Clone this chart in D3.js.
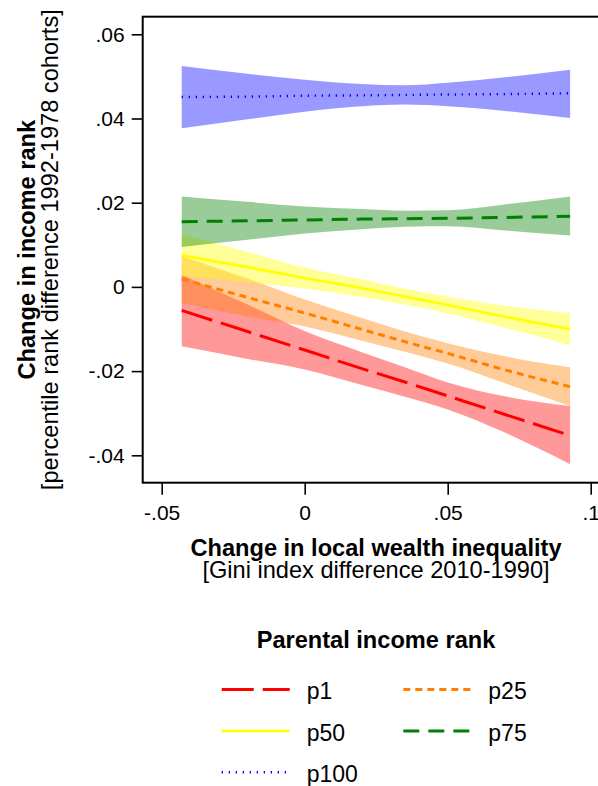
<!DOCTYPE html>
<html>
<head>
<meta charset="utf-8">
<script src="https://cdn.jsdelivr.net/npm/d3@7/dist/d3.min.js"></script>
<style>
  html, body { margin: 0; padding: 0; background: #fff; }
  svg { display: block; font-family: "Liberation Sans", Arial, Helvetica, sans-serif; }
</style>
</head>
<body>
<svg id="chart" width="598" height="786"></svg>
<script>
// Evaluation points on the x axis (change in local Gini index)
const gini = [-0.043, -0.02, 0, 0.02, 0.035, 0.05, 0.07, 0.0928];

// Predicted change in income rank with 95% CI, by parental income rank
const p1Fit  = [-0.0056, -0.0106, -0.0150, -0.0194, -0.0226, -0.0259, -0.0303, -0.0353];
const p1Lo   = [-0.0141, -0.0171, -0.0196, -0.0233, -0.0261, -0.0291, -0.0346, -0.0421];
const p1Hi   = [ 0.0029, -0.0042, -0.0105, -0.0155, -0.0191, -0.0227, -0.0260, -0.0283];

const p25Fit = [ 0.0019, -0.0025, -0.0062, -0.0101, -0.0130, -0.0158, -0.0197, -0.0237];
const p25Lo  = [-0.0038, -0.0070, -0.0094, -0.0128, -0.0154, -0.0182, -0.0229, -0.0283];
const p25Hi  = [ 0.0073,  0.0020, -0.0030, -0.0074, -0.0106, -0.0134, -0.0165, -0.0191];

const p50Fit = [ 0.0075,  0.0047,  0.0021, -0.0003, -0.0023, -0.0043, -0.0071, -0.0100];
const p50Lo  = [ 0.0026,  0.0011, -0.0004, -0.0024, -0.0042, -0.0063, -0.0097, -0.0139];
const p50Hi  = [ 0.0125,  0.0083,  0.0046,  0.0018, -0.0004, -0.0023, -0.0045, -0.0062];

const p75Fit = [ 0.0155,  0.0157,  0.0159,  0.0161,  0.0162,  0.0163,  0.0165,  0.0168];
const p75Lo  = [ 0.0095,  0.0112,  0.0127,  0.0137,  0.0143,  0.0144,  0.0134,  0.0122];
const p75Hi  = [ 0.0215,  0.0202,  0.0191,  0.0185,  0.0181,  0.0182,  0.0196,  0.0215];

const p100Fit = [0.0451, 0.0452, 0.0454, 0.0455, 0.0456, 0.0457, 0.0458, 0.0460];
const p100Lo  = [0.0377, 0.0398, 0.0416, 0.0429, 0.0433, 0.0429, 0.0418, 0.0401];
const p100Hi  = [0.0525, 0.0506, 0.0492, 0.0482, 0.0479, 0.0485, 0.0498, 0.0516];

const xTicks = [-0.05, 0, 0.05, 0.1];
const yTicks = [-0.04, -0.02, 0, 0.02, 0.04, 0.06];

const series = [
  { name: "p1",   fit: p1Fit,   lo: p1Lo,   hi: p1Hi,   color: "#ff0000", dash: "32,9",    width: 3 },
  { name: "p25",  fit: p25Fit,  lo: p25Lo,  hi: p25Hi,  color: "#ff7f00", dash: "7,5",     width: 3 },
  { name: "p50",  fit: p50Fit,  lo: p50Lo,  hi: p50Hi,  color: "#ffff00", dash: null,      width: 2.6 },
  { name: "p75",  fit: p75Fit,  lo: p75Lo,  hi: p75Hi,  color: "#008000", dash: "16,9",    width: 3 },
  { name: "p100", fit: p100Fit, lo: p100Lo, hi: p100Hi, color: "#0000ff", dash: "1.3,5.7", width: 2.4 }
];

const svg = d3.select("#chart");

const x = d3.scaleLinear().domain([-0.05, 0.1]).range([161.7, 590.7]);
const y = d3.scaleLinear().domain([-0.04, 0.06]).range([455.3, 34.3]);

const box = { left: 142.7, top: 16.7, right: 606, bottom: 482.7 };

// Confidence bands
const area = d3.area()
  .x((d, i) => x(gini[i]))
  .y0(d => y(d.lo))
  .y1(d => y(d.hi))
  .curve(d3.curveMonotoneX);

series.forEach(s => {
  const pts = gini.map((g, i) => ({ lo: s.lo[i], hi: s.hi[i] }));
  svg.append("path")
    .attr("d", area(pts))
    .attr("fill", s.color)
    .attr("fill-opacity", 0.4);
});

// Fitted lines
const line = d3.line()
  .x((d, i) => x(gini[i]))
  .y(d => y(d))
  .curve(d3.curveMonotoneX);

series.forEach(s => {
  svg.append("path")
    .attr("d", line(s.fit))
    .attr("fill", "none")
    .attr("stroke", s.color)
    .attr("stroke-width", s.width)
    .attr("stroke-dasharray", s.dash);
});

// Plot region outline
svg.append("rect")
  .attr("x", box.left).attr("y", box.top)
  .attr("width", box.right - box.left).attr("height", box.bottom - box.top)
  .attr("fill", "none").attr("stroke", "#000").attr("stroke-width", 2);

const fmt = d => d === 0 ? "0" : String(+d.toFixed(3)).replace(/^(-?)0\./, "$1.");

// Axes
const yAxis = svg.append("g")
  .attr("transform", `translate(${box.left},0)`)
  .call(d3.axisLeft(y).tickValues(yTicks).tickSize(11).tickPadding(7).tickFormat(fmt));
const xAxis = svg.append("g")
  .attr("transform", `translate(0,${box.bottom})`)
  .call(d3.axisBottom(x).tickValues(xTicks).tickSize(12).tickPadding(10).tickFormat(fmt));

[yAxis, xAxis].forEach(g => {
  g.select(".domain").remove();
  g.selectAll(".tick line").attr("stroke", "#000").attr("stroke-width", 1.6);
  g.selectAll(".tick text")
    .attr("fill", "#000")
    .style("font-size", "21px")
    .style("font-family", "Liberation Sans, Arial, sans-serif");
});

// Axis titles
const midY = (box.top + box.bottom) / 2;
svg.append("text")
  .attr("transform", `translate(35,${midY}) rotate(-90)`)
  .attr("text-anchor", "middle")
  .style("font-size", "23.6px").style("font-weight", "bold")
  .text("Change in income rank");
svg.append("text")
  .attr("transform", `translate(57.5,${midY}) rotate(-90)`)
  .attr("text-anchor", "middle")
  .style("font-size", "23.6px")
  .text("[percentile rank difference 1992-1978 cohorts]");

svg.append("text")
  .attr("x", 376).attr("y", 556)
  .attr("text-anchor", "middle")
  .style("font-size", "23.6px").style("font-weight", "bold")
  .text("Change in local wealth inequality");
svg.append("text")
  .attr("x", 376).attr("y", 578)
  .attr("text-anchor", "middle")
  .style("font-size", "23.6px")
  .text("[Gini index difference 2010-1990]");

// Legend
svg.append("text")
  .attr("x", 376).attr("y", 648)
  .attr("text-anchor", "middle")
  .style("font-size", "23.6px").style("font-weight", "bold")
  .text("Parental income rank");

const legendPos = [
  { cx: 221.7, cy: 689.5 },
  { cx: 403.3, cy: 689.5 },
  { cx: 221.7, cy: 731 },
  { cx: 403.3, cy: 731 },
  { cx: 221.7, cy: 772.3 }
];

series.forEach((s, i) => {
  const p = legendPos[i];
  svg.append("line")
    .attr("x1", p.cx).attr("x2", p.cx + 68)
    .attr("y1", p.cy).attr("y2", p.cy)
    .attr("stroke", s.color)
    .attr("stroke-width", s.width)
    .attr("stroke-dasharray", s.dash);
  svg.append("text")
    .attr("x", p.cx + 85).attr("y", p.cy + 9.5)
    .style("font-size", "23px")
    .text(s.name);
});
</script>
</body>
</html>
